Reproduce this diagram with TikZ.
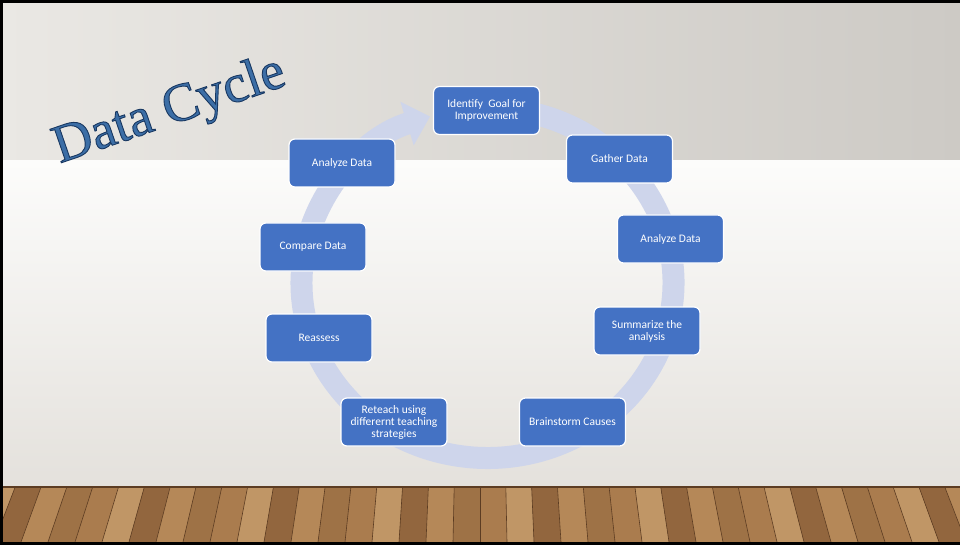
\documentclass[tikz,border=0pt]{standalone}
\usepackage{fontspec}
\setmainfont{Liberation Serif}
\newfontfamily\boxfont{Carlito}
\usetikzlibrary{arrows.meta, positioning, calc}

\definecolor{boxblue}{RGB}{68,114,196}
\definecolor{ringblue}{RGB}{206,213,235}
\definecolor{titleblue}{RGB}{60,110,166}
\definecolor{wallleft}{RGB}{234,232,228}
\definecolor{wallright}{RGB}{205,202,197}
\definecolor{walltop}{RGB}{252,252,251}
\definecolor{wallbottom}{RGB}{228,225,220}
\definecolor{plank0}{RGB}{170,124,78}
\definecolor{plank1}{RGB}{192,150,102}
\definecolor{plank2}{RGB}{146,102,62}
\definecolor{plank3}{RGB}{181,136,88}
\definecolor{plank4}{RGB}{158,114,70}
\definecolor{seam}{RGB}{92,60,34}

% outlined lettering for the heading
\newcommand{\edgetext}[1]{\special{pdf:literal 0.10 0.22 0.38 RG 0.9 w 2 Tr}#1\special{pdf:literal 0 Tr}}

\begin{document}
\begin{tikzpicture}[x=1pt,y=-1pt]
	\tikzstyle{stage}=[draw=white, line width=1.2pt, fill=boxblue, rounded corners=6pt,
		minimum width=106pt, minimum height=48pt, align=center,
		text=white, inner sep=2pt, font=\boxfont\fontsize{11.5}{12}\selectfont]
	\tikzstyle{headline}=[rotate=19, anchor=base, text=titleblue, font=\fontsize{54}{54}\selectfont]

	\useasboundingbox (0,0) rectangle (960,545);

	% wall
	\shade[left color=wallleft, right color=wallright] (0,0) rectangle (960,161);
	\shade[top color=walltop, bottom color=wallbottom] (0,161) rectangle (960,486);

	% floor
	\begin{scope}
		\clip (0,486) rectangle (960,542);
		\fill[plank0] (0,486) rectangle (960,542);
		\foreach \i in {-20,...,19}{
			\pgfmathtruncatemacro{\c}{mod(\i+40,5)}
			\fill[plank\c] ({480+\i*27},542) -- ({480+(\i+1)*27},542)
				-- ({480+(\i+1)*25.8},486) -- ({480+\i*25.8},486) -- cycle;
			\draw[seam, line width=0.6pt] ({480+\i*27},542) -- ({480+\i*25.8},486);
		}
		\draw[seam, line width=2.5pt] (0,487) -- (960,487);
	\end{scope}

	% frame
	\fill[black] (0,0) rectangle (960,3);
	\fill[black] (0,0) rectangle (3,545);
	\fill[black] (0,542) rectangle (960,545);

	% cycle arrow
	\coordinate (hub) at (487.5,283);
	\draw[ringblue, line width=22pt, -{Triangle[width=44pt,length=24pt]}]
		($(hub)+(-81:186 and 175)$) arc[start angle=-81, end angle=252, x radius=186, y radius=175];

	% title
	\node[headline] (title) at (174,124) {\edgetext{Data Cycle}};

	% stages
	\node[stage] (goal)      at (486.5,110.5) {Identify\ \ Goal for\\Improvement};
	\node[stage] (gather)    at (619.5,159)   {Gather Data};
	\node[stage] (analyze)   at (670.5,239)   {Analyze Data};
	\node[stage] (summarize) at (647,331)     {Summarize the\\analysis};
	\node[stage] (causes)    at (572.5,422)   {Brainstorm Causes};
	\node[stage] (reteach)   at (394,422)     {Reteach using\\differernt teaching\\strategies};
	\node[stage] (reassess)  at (319,338)     {Reassess};
	\node[stage] (compare)   at (313,247)     {Compare Data};
	\node[stage] (reanalyze) at (342,163)     {Analyze Data};
\end{tikzpicture}
\end{document}
